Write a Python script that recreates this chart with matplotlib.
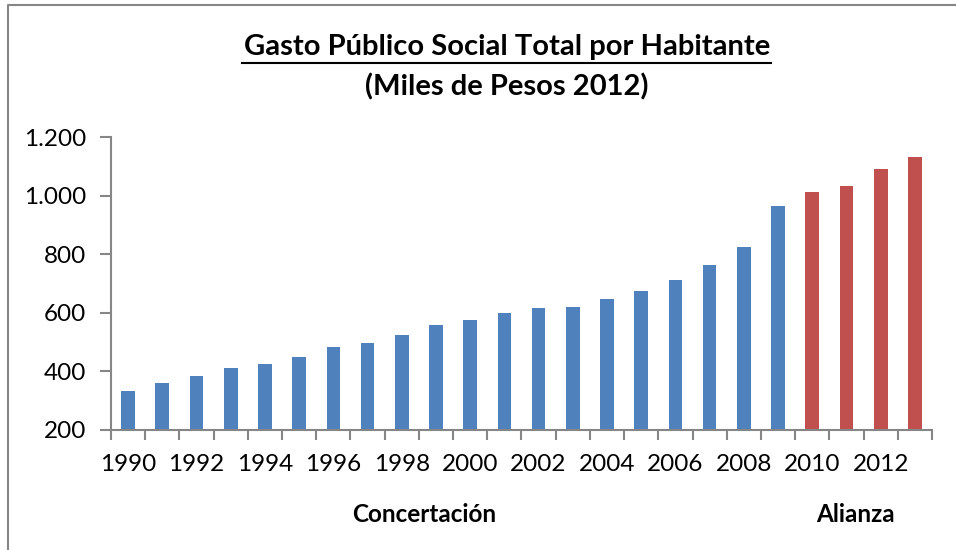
import matplotlib.pyplot as plt
from matplotlib.ticker import FuncFormatter, FixedLocator
from matplotlib.lines import Line2D

years = list(range(1990, 2014))
gasto = [333, 359, 384, 410, 426, 448, 483, 496, 523, 557, 577, 600,
         615, 620, 648, 674, 712, 762, 824, 963, 1013, 1032, 1090, 1131]
periodo = ["Concertación"] * 20 + ["Alianza"] * 4
colores = {"Concertación": "#4F81BD", "Alianza": "#C0504D"}

plt.rcParams['font.family'] = ['Lato', 'DejaVu Sans']

fig = plt.figure(figsize=(9.56, 5.5), dpi=100)
ax = fig.add_axes([111 / 956, 120 / 550, 821 / 956, 293 / 550])

x = list(range(len(years)))
ax.bar(x, [v - 200 for v in gasto], bottom=200, width=0.4,
       color=[colores[p] for p in periodo], zorder=2)

# Format axes
ax.set_xlim(-0.5, len(years) - 0.5)
ax.set_ylim(200, 1200)
ax.set_yticks(range(200, 1201, 200))
ax.yaxis.set_major_formatter(FuncFormatter(lambda v, p: f"{int(v):,}".replace(",", ".")))

ax.xaxis.set_major_locator(FixedLocator([i for i in x if years[i] % 2 == 0]))
ax.set_xticklabels([str(y) for y in years if y % 2 == 0])
ax.xaxis.set_minor_locator(FixedLocator([i - 0.5 for i in range(len(years) + 1)]))

gris = "#868686"
for s in ["top", "right"]:
    ax.spines[s].set_visible(False)
for s in ["left", "bottom"]:
    ax.spines[s].set_color(gris)
    ax.spines[s].set_linewidth(1.5)

ax.tick_params(axis="y", direction="out", length=8, width=1.5, color=gris,
               labelsize=17.5, pad=10)
ax.tick_params(axis="x", which="major", length=0, labelsize=17.5, pad=17)
ax.tick_params(axis="x", which="minor", direction="out", length=7, width=1.5, color=gris)

# Titles
fig.text(507, 550 - 47, "Gasto Público Social Total por Habitante", transform=None,
         ha="center", va="center", fontsize=21, fontweight="bold")
fig.text(507, 550 - 87, "(Miles de Pesos 2012)", transform=None,
         ha="center", va="center", fontsize=21, fontweight="bold")
fig.add_artist(Line2D([242, 771], [550 - 63, 550 - 63], transform=None,
                      color="black", linewidth=1.5))

# Group labels
fig.text(424, 550 - 515, "Concertación", transform=None, ha="center", va="center",
         fontsize=17.5, fontweight="bold")
fig.text(855, 550 - 515, "Alianza", transform=None, ha="center", va="center",
         fontsize=17.5, fontweight="bold")

# Chart border
fig.add_artist(Line2D([8, 8, 960], [-5, 545, 545], transform=None,
                      color=gris, linewidth=1.5))

fig.savefig("out.png", dpi=100)
